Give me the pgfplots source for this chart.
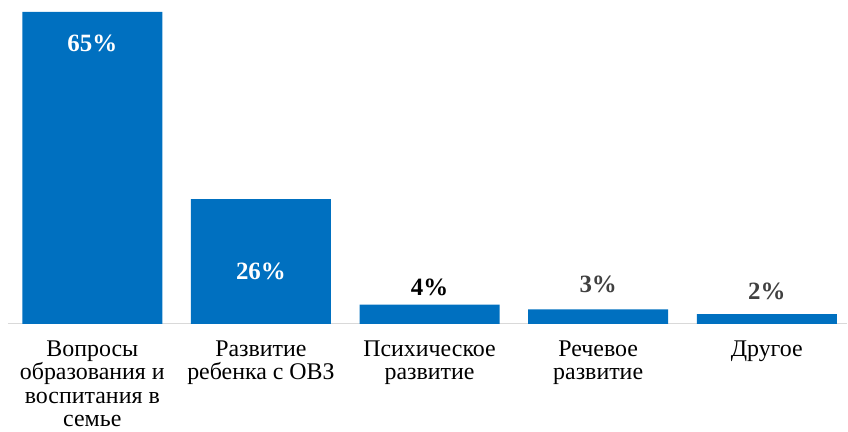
\documentclass[border=0pt]{standalone}
\usepackage{pgfplots}
\pgfplotsset{compat=1.18}
\usepackage{fontspec}
\setmainfont{Liberation Serif}
\definecolor{barblue}{HTML}{0070C0}
\definecolor{axisgray}{HTML}{D9D9D9}
\definecolor{lblgray}{HTML}{404040}
\begin{document}
\begin{tikzpicture}
\begin{axis}[
  at={(0,0)}, anchor=south west,
  scale only axis,
  width=840bp, height=324bp,
  xmin=-0.5, xmax=4.478,
  ymin=0, ymax=67.5,
  clip=false,
  axis y line=none,
  axis x line*=bottom,
  x axis line style={draw=axisgray, line width=1.2bp, -},
  xtick={0,1,2,3,4},
  major tick length=0pt,
  xticklabels={{Вопросы\\образования и\\воспитания в\\семье},{Развитие\\ребенка с ОВЗ},{Психическое\\развитие},{Речевое\\развитие},{Другое}},
  xticklabel style={align=center, inner sep=0pt, font=\fontsize{24}{23.4}\selectfont, anchor=north, yshift=-17bp},
  ybar, bar width=0.83, bar shift=0pt,
]
\addplot[fill=barblue, draw=none] coordinates {(0,65) (1,26) (2,4) (3,3) (4,2)};
\node[text=white, font=\bfseries\fontsize{25}{25}\selectfont] at (axis cs:0,58.5) {65\%};
\node[text=white, font=\bfseries\fontsize{25}{25}\selectfont] at (axis cs:1,11.0) {26\%};
\node[text=black, font=\bfseries\fontsize{25}{25}\selectfont] at (axis cs:2,7.5) {4\%};
\node[text=lblgray, font=\bfseries\fontsize{25}{25}\selectfont] at (axis cs:3,8.3) {3\%};
\node[text=lblgray, font=\bfseries\fontsize{25}{25}\selectfont] at (axis cs:4,6.7) {2\%};
\path (rel axis cs:0,0) ++(-8bp,-108bp) (rel axis cs:1,1);
\end{axis}
\end{tikzpicture}
\end{document}
